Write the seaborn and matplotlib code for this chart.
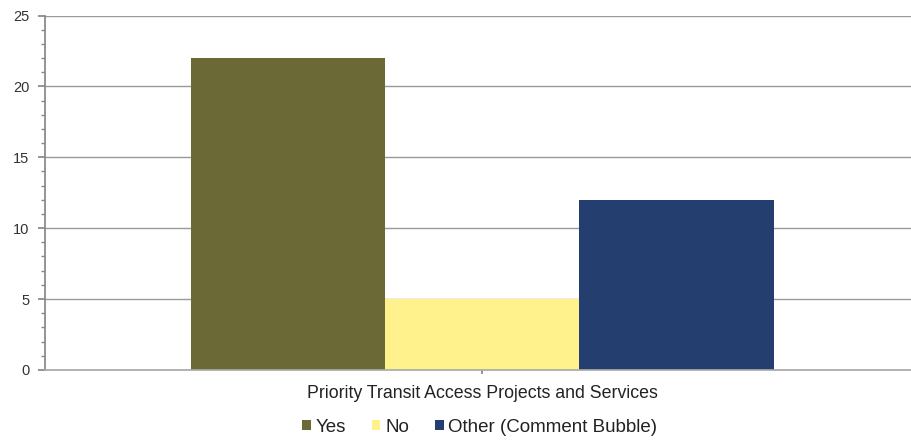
import matplotlib
matplotlib.use("Agg")
import matplotlib.pyplot as plt
from matplotlib.ticker import MultipleLocator
import seaborn as sns
import pandas as pd

category = ["Priority Transit Access Projects and Services"]
responses = ["Yes", "No", "Other (Comment Bubble)"]
counts = [22, 5, 12]
colors = ["#6b6a36", "#fff28c", "#243f6f"]

df = pd.DataFrame({
    "category": category * len(responses),
    "response": responses,
    "count": counts,
})

sns.set_theme(style="white")
plt.rcParams["font.family"] = ["Liberation Sans", "DejaVu Sans"]

fig = plt.figure(figsize=(9.12, 4.43), dpi=100)
ax = fig.add_axes([0.049, 0.165, 0.96, 0.80])

sns.barplot(data=df, x="category", y="count", hue="response",
            palette=colors, width=0.665, saturation=1, ax=ax,
            edgecolor="none", legend=True)

ax.set_ylim(0, 25)
ax.set_xlim(-0.5, 0.5)
ax.yaxis.set_major_locator(MultipleLocator(5))
ax.yaxis.set_minor_locator(MultipleLocator(1))
ax.grid(axis="y", color="#9a9a9a", linewidth=1.0)
ax.set_axisbelow(True)
for side in ["top", "right"]:
    ax.spines[side].set_visible(False)
ax.spines["left"].set_color("#888888")
ax.spines["bottom"].set_color("#aaaaaa")
ax.tick_params(axis="y", which="major", left=True, length=5, color="#888888",
               labelsize=10.5, labelcolor="#333333", pad=6)
ax.tick_params(axis="y", which="minor", left=True, length=3, color="#888888")
ax.tick_params(axis="x", bottom=True, length=3, color="#888888",
               labelsize=12.8, labelcolor="#222222", pad=8)
ax.set_xlabel("")
ax.set_ylabel("")

leg = ax.legend(loc="upper center", bbox_to_anchor=(0.497, -0.09), ncol=3,
                frameon=False, fontsize=13.5, handlelength=0.45,
                handleheight=0.45, handletextpad=0.25, columnspacing=1.4)
for t in leg.get_texts():
    t.set_color("#222222")

fig.savefig("out.png", dpi=100)
